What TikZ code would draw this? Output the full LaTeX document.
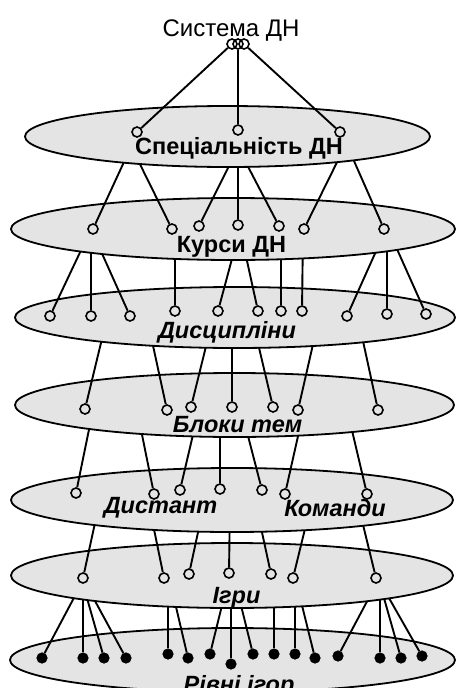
\documentclass[tikz,border=0pt]{standalone}
\usepackage{fontspec}
\setmainfont{Liberation Sans}
\usepackage{xcolor}
\usepackage{tikz}
\usetikzlibrary{shapes.geometric}
\definecolor{levelgray}{RGB}{228,228,228}
\tikzset{
  levelell/.style={draw, ellipse, fill=levelgray, line width=1.8pt, inner sep=0pt},
  hole/.style={draw, circle, line width=1.6pt, minimum size=10pt, inner sep=0pt},
  leaf/.style={draw, circle, fill=black, line width=0.6pt, minimum size=10.5pt, inner sep=0pt},
  link/.style={line width=1.9pt},
  lbl/.style={anchor=base, inner sep=0pt, font=\fontsize{23.5}{26}\selectfont\bfseries\itshape},
}

\begin{document}
\begin{tikzpicture}[x=1pt, y=-1pt]
  \clip (0,0) rectangle (456,688);
  \fill[white] (0,0) rectangle (456,688);

  % levels are drawn from the bottom up, so each ellipse hides the start of its links
  \node[levelell, minimum width=445pt, minimum height=64pt] (e7) at (232.5,660) {};
  \foreach \i/\x/\y/\sx in {1/42/658/85, 2/83/658/83, 3/104/658/81, 4/126/658/82,
      5/168/654/168, 6/188/658/169, 7/210/654/229, 8/231/664/231, 9/253/654/234,
      10/274/654/274, 11/295/654/295, 12/315/658/295, 13/338/656/380,
      14/380/658/380, 15/401/658/378, 16/422/656/377} {
    \node[leaf] (r\i) at (\x,\y) {};
    \coordinate (rs\i) at (\sx,577);
    \draw[link] (rs\i) -- (r\i);
  }

  \node[levelell, minimum width=442pt, minimum height=65pt] (e6) at (232,575.5) {};
  \foreach \i/\x/\y/\sx in {1/83/578/100, 2/164/578/148, 3/189/574/205, 4/229/573/230,
      5/271/574/255, 6/293/578/312, 7/376/578/357} {
    \node[hole] (g\i) at (\x,\y) {};
    \coordinate (gs\i) at (\sx,500);
    \draw[link] (gs\i) -- (g\i);
  }

  \node[levelell, minimum width=442pt, minimum height=64pt] (e5) at (232,500) {};
  \foreach \i/\x/\y/\sx in {1/76/493/94, 2/154/494/136, 3/180/490/200, 4/220/489/220,
      5/262/490/240, 6/285/494/305, 7/367/494/346} {
    \node[hole] (t\i) at (\x,\y) {};
    \coordinate (ts\i) at (\sx,405);
    \draw[link] (ts\i) -- (t\i);
  }

  \node[levelell, minimum width=439pt, minimum height=64pt] (e4) at (234.5,405) {};
  \foreach \i/\x/\y/\sx in {1/85/409/107, 2/167/410/147, 3/191/407/213, 4/232/407/232,
      5/273/407/252, 6/298/410/319, 7/378/410/358} {
    \node[hole] (b\i) at (\x,\y) {};
    \coordinate (bs\i) at (\sx,318);
    \draw[link] (bs\i) -- (b\i);
  }

  \node[levelell, minimum width=440pt, minimum height=61pt] (e3) at (235,317.5) {};
  \foreach \i/\x/\y/\sx in {1/50/316/91, 2/91/316/91, 3/130/316/91, 4/175/311/175,
      5/218/311/240, 6/258/311/240, 7/281/311/281, 8/302/311/303,
      9/347/316/386, 10/387/314/387, 11/426/314/388} {
    \node[hole] (d\i) at (\x,\y) {};
    \coordinate (ds\i) at (\sx,229);
    \draw[link] (ds\i) -- (d\i);
  }

  \node[levelell, minimum width=444pt, minimum height=62pt] (e2) at (233,229) {};
  \foreach \i/\x/\y/\sx in {1/93/229/136, 2/172/229/126, 3/199/226/244, 4/238/225/238,
      5/279/226/232, 6/304/229/350, 7/384/229/343} {
    \node[hole] (k\i) at (\x,\y) {};
    \coordinate (ks\i) at (\sx,136);
    \draw[link] (ks\i) -- (k\i);
  }

  \node[levelell, minimum width=405pt, minimum height=61pt] (e1) at (227.5,136.5) {};
  \node[hole] (s1) at (137,132) {};
  \node[hole] (s2) at (238,130) {};
  \node[hole] (s3) at (340,132) {};

  % root: three overlapping rings
  \node[hole] (h1) at (232,44) {};
  \node[hole] (h2) at (238,44) {};
  \node[hole] (h3) at (244,44) {};
  \draw[link] (h1) -- (s1);
  \draw[link] (h2) -- (s2);
  \draw[link] (h3) -- (s3);

  % labels
  \node[anchor=base, inner sep=0pt, font=\fontsize{24}{26}\selectfont] (root) at (231,36.5) {Система ДН};
  \node[lbl, font=\fontsize{23.5}{26}\selectfont\bfseries] (spec) at (239,154) {Спеціальність ДН};
  \node[lbl, font=\fontsize{23.5}{26}\selectfont\bfseries] (kursy) at (231.5,252) {Курси ДН};
  \node[lbl] (dysc) at (227,338) {Дисципліни};
  \node[lbl] (bloky) at (237.5,432) {Блоки тем};
  \node[lbl] (dyst) at (160.5,513) {Дистант};
  \node[lbl] (koman) at (335,516) {Команди};
  \node[lbl] (igry) at (236.5,603) {Ігри};
  \node[lbl] (rivni) at (239,692) {Рівні ігор};
\end{tikzpicture}
\end{document}
